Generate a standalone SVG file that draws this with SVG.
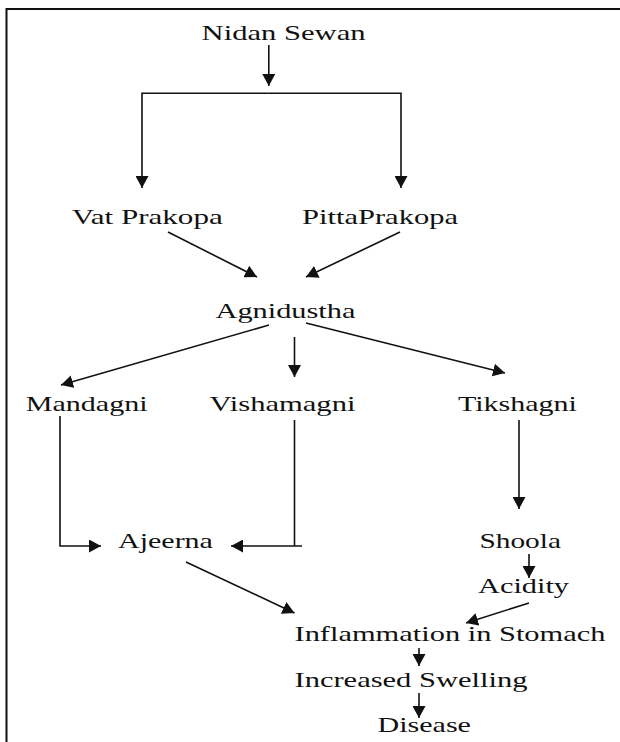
<svg xmlns="http://www.w3.org/2000/svg" width="620" height="742" viewBox="0 0 620 742">
<style>
.t{font-family:"Liberation Serif","Times New Roman",serif;font-size:20.5px;fill:#111}
.c path{fill:none;stroke:#111;stroke-width:1.6}
.a{marker-end:url(#ah)}
</style>
<defs>
<marker id="ah" viewBox="0 0 10 10" refX="10" refY="5" markerUnits="userSpaceOnUse" markerWidth="12" markerHeight="13" orient="auto" preserveAspectRatio="none">
<path d="M0,0 L10,5 L0,10 z" fill="#111"/>
</marker>
</defs>
<rect width="620" height="742" fill="#fff"/>
<g id="frame" fill="none" stroke="#111" stroke-width="2">
<path d="M6.5,742 V9 H620"/>
</g>
<g id="connectors" class="c">
<path class="a" d="M268.8,45 V86"/>
<path class="a" d="M268.8,93.3 H142 V188"/>
<path class="a" d="M268.8,93.3 H401 V188"/>
<path class="a" d="M168,232 L257,277"/>
<path class="a" d="M400,232 L306,277"/>
<path class="a" d="M269,325 L61,385"/>
<path class="a" d="M294.5,337 V377"/>
<path class="a" d="M306,323 L505,373"/>
<path class="a" d="M60,416 V546 H101"/>
<path d="M294.5,420 V546"/>
<path class="a" d="M302,546 H231"/>
<path class="a" d="M519,420 V509"/>
<path class="a" d="M529,554 V578"/>
<path class="a" d="M529,603 L466,623"/>
<path class="a" d="M186,562 L294.5,613"/>
<path class="a" d="M419,648 V666"/>
<path class="a" d="M419,693 V718"/>
</g>
<g id="n-nidan"><text class="t" transform="translate(201.6,40) scale(1.5,1)" textLength="109.3" lengthAdjust="spacingAndGlyphs">Nidan Sewan</text></g>
<g id="n-vat"><text class="t" transform="translate(71.7,224) scale(1.5,1)" textLength="100.7" lengthAdjust="spacingAndGlyphs">Vat Prakopa</text></g>
<g id="n-pitta"><text class="t" transform="translate(302,224) scale(1.5,1)" textLength="104" lengthAdjust="spacingAndGlyphs">PittaPrakopa</text></g>
<g id="n-agni"><text class="t" transform="translate(215.5,318) scale(1.5,1)" textLength="93.3" lengthAdjust="spacingAndGlyphs">Agnidustha</text></g>
<g id="n-manda"><text class="t" transform="translate(25.7,411) scale(1.5,1)" textLength="81.3" lengthAdjust="spacingAndGlyphs">Mandagni</text></g>
<g id="n-visha"><text class="t" transform="translate(209.5,411) scale(1.5,1)" textLength="97.3" lengthAdjust="spacingAndGlyphs">Vishamagni</text></g>
<g id="n-tiksh"><text class="t" transform="translate(458,411) scale(1.5,1)" textLength="79.3" lengthAdjust="spacingAndGlyphs">Tikshagni</text></g>
<g id="n-ajeerna"><text class="t" transform="translate(118,548) scale(1.5,1)" textLength="63.3" lengthAdjust="spacingAndGlyphs">Ajeerna</text></g>
<g id="n-shoola"><text class="t" transform="translate(479.5,548) scale(1.5,1)" textLength="54.3" lengthAdjust="spacingAndGlyphs">Shoola</text></g>
<g id="n-acidity"><text class="t" transform="translate(478,593) scale(1.5,1)" textLength="60.7" lengthAdjust="spacingAndGlyphs">Acidity</text></g>
<g id="n-inflam"><text class="t" transform="translate(294.5,641) scale(1.5,1)" textLength="207.3" lengthAdjust="spacingAndGlyphs">Inflammation in Stomach</text></g>
<g id="n-swell"><text class="t" transform="translate(294.5,687) scale(1.5,1)" textLength="155.3" lengthAdjust="spacingAndGlyphs">Increased Swelling</text></g>
<g id="n-disease"><text class="t" transform="translate(377.5,732) scale(1.5,1)" textLength="62.3" lengthAdjust="spacingAndGlyphs">Disease</text></g>
</svg>
